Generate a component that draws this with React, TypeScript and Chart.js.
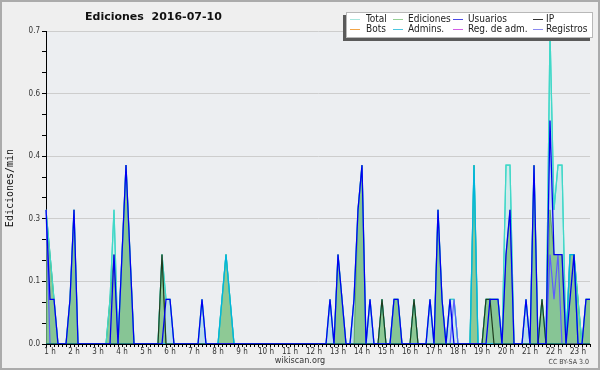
import React, { useEffect, useRef } from 'react';
import { Chart, registerables } from 'chart.js';

Chart.register(...registerables);

// 10-minute bins from 0:50 to 23:30
const binLabels: string[] = Array.from({ length: 137 }, (_, i) => {
  const m = 50 + i * 10;
  const h = Math.floor(m / 60);
  const mm = m % 60;
  return `${h}:${mm < 10 ? '0' : ''}${mm}`;
});

const total = [
  0.3, 0.2, 0.1, 0, 0, 0, 0.1, 0.3, 0, 0, 0, 0,
  0, 0, 0, 0, 0.1, 0.3, 0, 0.2, 0.4, 0.2, 0, 0,
  0, 0, 0, 0, 0, 0.2, 0.1, 0.1, 0, 0, 0, 0,
  0, 0, 0, 0.1, 0, 0, 0, 0, 0.1, 0.2, 0.1, 0,
  0, 0, 0, 0, 0, 0, 0, 0, 0, 0, 0, 0,
  0, 0, 0, 0, 0, 0, 0, 0, 0, 0, 0, 0.1,
  0, 0.2, 0.1, 0, 0, 0.1, 0.3, 0.4, 0, 0.1, 0, 0,
  0.1, 0, 0, 0.1, 0.1, 0, 0, 0, 0.1, 0, 0, 0,
  0.1, 0, 0.3, 0.1, 0, 0.1, 0.1, 0, 0, 0, 0, 0.4,
  0, 0, 0.1, 0.1, 0.1, 0.1, 0, 0.4, 0.4, 0, 0, 0,
  0.1, 0, 0.4, 0, 0.1, 0, 0.7, 0.3, 0.4, 0.4, 0, 0.2,
  0.2, 0.1, 0, 0.1, 0.1,
];

const ediciones = [
  0.3, 0.2, 0.1, 0, 0, 0, 0.1, 0.3, 0, 0, 0, 0,
  0, 0, 0, 0, 0.1, 0.2, 0, 0.2, 0.4, 0.2, 0, 0,
  0, 0, 0, 0, 0, 0.2, 0, 0, 0, 0, 0, 0,
  0, 0, 0, 0, 0, 0, 0, 0, 0.1, 0.2, 0.1, 0,
  0, 0, 0, 0, 0, 0, 0, 0, 0, 0, 0, 0,
  0, 0, 0, 0, 0, 0, 0, 0, 0, 0, 0, 0,
  0, 0.2, 0.1, 0, 0, 0, 0.3, 0.4, 0, 0, 0, 0,
  0.1, 0, 0, 0.1, 0.1, 0, 0, 0, 0.1, 0, 0, 0,
  0, 0, 0.3, 0.1, 0, 0, 0, 0, 0, 0, 0, 0.4,
  0, 0, 0.1, 0.1, 0.1, 0.1, 0, 0.2, 0.3, 0, 0, 0,
  0, 0, 0.4, 0, 0.1, 0, 0.3, 0.2, 0.2, 0.2, 0, 0.2,
  0.2, 0.1, 0, 0.1, 0.1,
];

const usuarios = [
  0.3, 0.1, 0.1, 0, 0, 0, 0.1, 0.3, 0, 0, 0, 0,
  0, 0, 0, 0, 0, 0.2, 0, 0.2, 0.4, 0.2, 0, 0,
  0, 0, 0, 0, 0, 0, 0.1, 0.1, 0, 0, 0, 0,
  0, 0, 0, 0.1, 0, 0, 0, 0, 0, 0, 0, 0,
  0, 0, 0, 0, 0, 0, 0, 0, 0, 0, 0, 0,
  0, 0, 0, 0, 0, 0, 0, 0, 0, 0, 0, 0.1,
  0, 0.2, 0.1, 0, 0, 0.1, 0.3, 0.4, 0, 0.1, 0, 0,
  0, 0, 0, 0.1, 0.1, 0, 0, 0, 0, 0, 0, 0,
  0.1, 0, 0.3, 0.1, 0, 0.1, 0, 0, 0, 0, 0, 0,
  0, 0, 0, 0.1, 0.1, 0.1, 0, 0.2, 0.3, 0, 0, 0,
  0.1, 0, 0.4, 0, 0, 0, 0.5, 0.2, 0.2, 0.2, 0, 0.1,
  0.2, 0, 0, 0.1, 0.1,
];

const ip = [
  0, 0, 0, 0, 0, 0, 0, 0, 0, 0, 0, 0,
  0, 0, 0, 0, 0, 0, 0, 0, 0, 0, 0, 0,
  0, 0, 0, 0, 0, 0.2, 0, 0, 0, 0, 0, 0,
  0, 0, 0, 0, 0, 0, 0, 0, 0, 0, 0, 0,
  0, 0, 0, 0, 0, 0, 0, 0, 0, 0, 0, 0,
  0, 0, 0, 0, 0, 0, 0, 0, 0, 0, 0, 0,
  0, 0, 0, 0, 0, 0, 0, 0, 0, 0, 0, 0,
  0.1, 0, 0, 0, 0, 0, 0, 0, 0.1, 0, 0, 0,
  0, 0, 0, 0, 0, 0, 0, 0, 0, 0, 0, 0,
  0, 0, 0.1, 0.1, 0, 0, 0, 0, 0, 0, 0, 0,
  0, 0, 0, 0, 0.1, 0, 0, 0, 0, 0, 0, 0,
  0, 0, 0, 0, 0,
];

const admins = [
  0, 0, 0, 0, 0, 0, 0, 0, 0, 0, 0, 0,
  0, 0, 0, 0, 0, 0, 0, 0, 0, 0, 0, 0,
  0, 0, 0, 0, 0, 0, 0, 0, 0, 0, 0, 0,
  0, 0, 0, 0, 0, 0, 0, 0, 0.1, 0.2, 0.1, 0,
  0, 0, 0, 0, 0, 0, 0, 0, 0, 0, 0, 0,
  0, 0, 0, 0, 0, 0, 0, 0, 0, 0, 0, 0,
  0, 0, 0, 0, 0, 0, 0, 0, 0, 0, 0, 0,
  0, 0, 0, 0, 0, 0, 0, 0, 0, 0, 0, 0,
  0, 0, 0, 0, 0, 0, 0, 0, 0, 0, 0, 0.4,
  0, 0, 0, 0, 0, 0, 0, 0, 0, 0, 0, 0,
  0, 0, 0, 0, 0, 0, 0, 0, 0, 0, 0, 0.2,
  0.2, 0, 0, 0, 0,
];

const registros = [
  0.3, 0, 0, 0, 0, 0, 0, 0, 0, 0, 0, 0,
  0, 0, 0, 0, 0, 0, 0, 0, 0, 0, 0, 0,
  0, 0, 0, 0, 0, 0, 0, 0, 0, 0, 0, 0,
  0, 0, 0, 0, 0, 0, 0, 0, 0, 0, 0, 0,
  0, 0, 0, 0, 0, 0, 0, 0, 0, 0, 0, 0,
  0, 0, 0, 0, 0, 0, 0, 0, 0, 0, 0, 0,
  0, 0, 0, 0, 0, 0, 0, 0, 0, 0, 0, 0,
  0, 0, 0, 0, 0, 0, 0, 0, 0, 0, 0, 0,
  0, 0, 0, 0, 0, 0, 0.1, 0, 0, 0, 0, 0,
  0, 0, 0, 0, 0, 0, 0, 0, 0, 0, 0, 0,
  0, 0, 0, 0, 0, 0, 0.2, 0.1, 0.2, 0, 0, 0,
  0, 0, 0, 0, 0,
];

const legendLabels = [
  ['Total', 'Ediciones', 'Usuarios', 'IP'],
  ['Bots', 'Admins.', 'Reg. de adm.', 'Registros'],
];
const legendColors = [
  ['#a8e6de', '#96d096', '#4a4ae6', '#333333'],
  ['#f2a546', '#4cc6e0', '#d25ee6', '#8a8af0'],
];

const Y_MAX = 0.7;
const Y_MAJOR = 5; // major divisions
const Y_MINOR = 3; // minor per major
const yTickValues: number[] = Array.from({ length: Y_MAJOR * Y_MINOR + 1 }, (_, i) => (Y_MAX * i) / (Y_MAJOR * Y_MINOR));

const FONT = "'DejaVu Sans Condensed', 'DejaVu Sans', sans-serif";

const decor = {
  id: 'decor',
  beforeDraw(chart: any) {
    const { ctx, chartArea: a, width, height } = chart;
    ctx.save();
    ctx.fillStyle = '#efefef';
    ctx.fillRect(0, 0, width, height);
    ctx.strokeStyle = '#ababab';
    ctx.lineWidth = 2;
    ctx.strokeRect(1, 1, width - 2, height - 2);
    ctx.fillStyle = '#eceef1';
    ctx.fillRect(a.left, a.top, a.right - a.left, a.bottom - a.top);
    ctx.restore();
  },
  afterDraw(chart: any) {
    const { ctx } = chart;
    ctx.save();
    // title
    ctx.fillStyle = '#111';
    ctx.font = "bold 11px 'DejaVu Sans', sans-serif";
    ctx.textBaseline = 'middle';
    ctx.textAlign = 'left';
    ctx.fillText('Ediciones  2016-07-10', 85, 17);
    // y title
    ctx.save();
    ctx.translate(10, 188);
    ctx.rotate(-Math.PI / 2);
    ctx.textAlign = 'center';
    ctx.font = "10px 'DejaVu Sans Mono', monospace";
    ctx.fillStyle = '#111';
    ctx.fillText('Ediciones/min', 0, 0);
    ctx.restore();
    // footer
    ctx.fillStyle = '#333';
    ctx.font = `9px ${FONT}`;
    ctx.textAlign = 'center';
    ctx.fillText('wikiscan.org', 300, 361);
    ctx.font = `7px ${FONT}`;
    ctx.textAlign = 'right';
    ctx.fillStyle = '#444';
    ctx.fillText('CC BY-SA 3.0', 589, 362);
    // legend box
    const bx = 346, by = 12, bw = 247, bh = 26;
    ctx.fillStyle = '#5a5a5a';
    ctx.fillRect(bx - 3, by + 3, bw, bh);
    ctx.fillStyle = '#ffffff';
    ctx.fillRect(bx, by, bw, bh);
    ctx.strokeStyle = '#b8b8b8';
    ctx.lineWidth = 1;
    ctx.strokeRect(bx + 0.5, by + 0.5, bw - 1, bh - 1);
    const swX = [350, 393, 453, 533];
    const txX = [366, 408, 468, 546];
    const rowY = [19, 29];
    ctx.font = `10px ${FONT}`;
    ctx.textAlign = 'left';
    ctx.textBaseline = 'middle';
    legendLabels.forEach((row, r) => {
      row.forEach((lab, c) => {
        ctx.strokeStyle = legendColors[r][c];
        ctx.lineWidth = 1;
        ctx.beginPath();
        ctx.moveTo(swX[c], rowY[r] + 0.5);
        ctx.lineTo(swX[c] + 10, rowY[r] + 0.5);
        ctx.stroke();
        ctx.fillStyle = '#222';
        ctx.fillText(lab, txX[c], rowY[r]);
      });
    });
    ctx.restore();
  },
};

export default function App() {
  const ref = useRef<HTMLCanvasElement>(null);
  useEffect(() => {
    document.body.style.margin = '0';
    const tickFont = { family: FONT, size: 8 };
    const chart = new Chart(ref.current as HTMLCanvasElement, {
      type: 'line',
      data: {
        labels: binLabels,
        datasets: [
          { label: 'Total', data: total, borderColor: '#40d8c8', backgroundColor: 'rgba(64,224,208,0.15)', fill: 'origin', order: 10, borderWidth: 1.2 },
          { label: 'UsuariosFill', data: usuarios, borderWidth: 0, borderColor: 'rgba(0,0,0,0)', backgroundColor: 'rgba(110,170,230,0.22)', fill: 'origin', order: 9 },
          { label: 'Ediciones', data: ediciones, borderColor: 'rgba(70,150,70,0.7)', backgroundColor: 'rgba(112,186,112,0.7)', fill: 'origin', order: 8, borderWidth: 1 },
          { label: 'TotalLine', data: total, borderColor: '#40d8c8', fill: false, order: 7, borderWidth: 1.2 },
          { label: 'Registros', data: registros, borderColor: '#5c5cff', fill: false, order: 6, borderWidth: 1.2 },
          { label: 'Admins.', data: admins, borderColor: '#00b4dc', fill: false, order: 5, borderWidth: 1.3 },
          { label: 'IP', data: ip, borderColor: '#1f3d1f', fill: false, order: 4, borderWidth: 1.2 },
          { label: 'Usuarios', data: usuarios, borderColor: '#0000f0', fill: false, order: 3, borderWidth: 1.3 },
        ],
      },
      options: {
        animation: false,
        responsive: false,
        devicePixelRatio: 1,
        layout: { padding: { top: 31, right: 10, left: 0, bottom: 0 } },
        plugins: { legend: { display: false }, tooltip: { enabled: false }, title: { display: false } },
        elements: { point: { radius: 0 }, line: { tension: 0 } },
        scales: {
          x: {
            type: 'category',
            offset: false,
            grid: { drawOnChartArea: false, drawTicks: true, tickLength: 3, tickColor: '#000' },
            border: { display: true, color: '#000', width: 1 },
            ticks: {
              autoSkip: false,
              maxRotation: 0,
              minRotation: 0,
              padding: 0,
              color: '#333',
              font: tickFont,
              callback: (_v: any, i: number) => {
                const l = binLabels[i];
                return l && l.endsWith(':00') ? `${parseInt(l, 10)} h` : '';
              },
            },
            afterFit: (s: any) => { s.height = 26; },
          },
          y: {
            min: 0,
            max: Y_MAX,
            afterBuildTicks: (s: any) => { s.ticks = yTickValues.map((v) => ({ value: v })); },
            grid: {
              color: (c: any) => (c.index % Y_MINOR === 0 && c.index > 0 ? '#cdcdcd' : 'rgba(0,0,0,0)'),
              tickColor: '#000',
              tickLength: 4,
              drawTicks: true,
            },
            border: { display: true, color: '#000', width: 1 },
            ticks: {
              autoSkip: false,
              padding: 2,
              color: '#333',
              font: tickFont,
              callback: (v: any, i: number) => (i % Y_MINOR === 0 ? Number(v).toFixed(1) : ''),
            },
            afterFit: (s: any) => { s.width = 46; },
          },
        },
      } as any,
      plugins: [decor],
    });
    return () => chart.destroy();
  }, []);
  return <canvas ref={ref} width={600} height={370} style={{ display: 'block' }} />;
}
